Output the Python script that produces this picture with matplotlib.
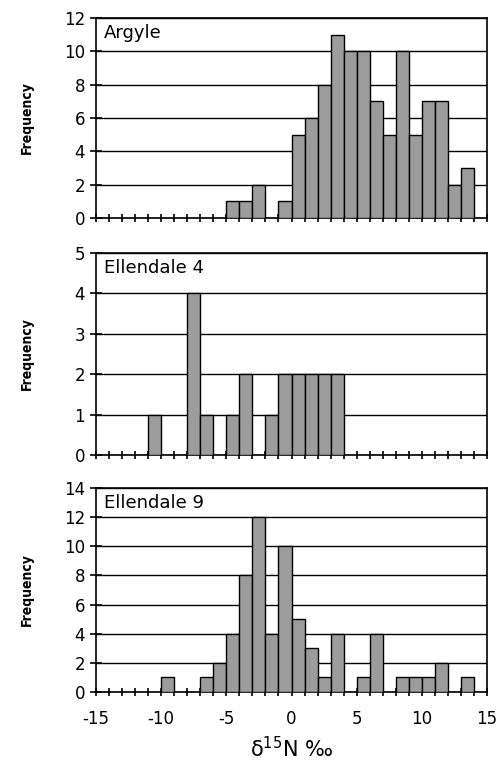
import numpy as np
import matplotlib
matplotlib.use("Agg")
import matplotlib.pyplot as plt
from matplotlib.ticker import MultipleLocator

# bin left edges (width 1 per mil) from -15 to 14
bin_left = np.arange(-15, 15)

# counts per bin
argyle = [0, 0, 0, 0, 0, 0, 0, 0, 0, 0, 1, 1, 2, 0, 1,
          5, 6, 8, 11, 10, 10, 7, 5, 10, 5, 7, 7, 2, 3, 0]
ellendale4 = [0, 0, 0, 0, 1, 0, 0, 4, 1, 0, 1, 2, 0, 1, 2,
              2, 2, 2, 2, 0, 0, 0, 0, 0, 0, 0, 0, 0, 0, 0]
ellendale9 = [0, 0, 0, 0, 0, 1, 0, 0, 1, 2, 4, 8, 12, 4, 10,
              5, 3, 1, 4, 0, 1, 4, 0, 1, 1, 1, 2, 0, 1, 0]

names = ["Argyle", "Ellendale 4", "Ellendale 9"]
series = [argyle, ellendale4, ellendale9]
y_max = [12, 5, 14]
y_step = [2, 1, 2]
x_ticks = [-15, -10, -5, 0, 5, 10, 15]

fig = plt.figure(figsize=(5.03, 7.81), dpi=100)
W, H = 503, 781
# panel boxes in pixels: (top, bottom)
boxes = [(18, 218), (253, 455), (488, 692)]
left_px, right_px = 96, 487

for i, (name, counts) in enumerate(zip(names, series)):
    top, bot = boxes[i]
    ax = fig.add_axes([left_px / W, 1 - bot / H, (right_px - left_px) / W, (bot - top) / H])
    counts = np.array(counts)
    keep = counts > 0
    ax.bar(bin_left[keep], counts[keep], width=1, align='edge',
           facecolor='#9c9c9c', edgecolor='black', linewidth=1.0, zorder=3)
    ax.set_xlim(-15, 15)
    ax.set_ylim(0, y_max[i])
    ax.yaxis.set_major_locator(MultipleLocator(y_step[i]))
    ax.xaxis.set_major_locator(MultipleLocator(5))
    ax.xaxis.set_minor_locator(MultipleLocator(1))
    ax.grid(axis='y', color='black', linewidth=1.0, zorder=1)
    ax.tick_params(axis='y', direction='inout', length=8, width=1.2, labelsize=12, pad=4)
    ax.tick_params(axis='x', which='both', direction='inout', length=6, width=1.2)
    for s in ax.spines.values():
        s.set_linewidth(1.2)
    ax.text(0.02, 0.97, name, transform=ax.transAxes, ha='left', va='top',
            fontsize=13, zorder=4)
    ax.set_ylabel("Frequency", fontsize=10, fontweight='bold', fontstretch='condensed')
    ax.yaxis.set_label_coords(-0.16, 0.5)
    if i < 2:
        ax.tick_params(axis='x', labelbottom=False)
    else:
        ax.set_xticks(x_ticks)
        ax.set_xticklabels([str(t) for t in x_ticks])
        ax.tick_params(axis='x', labelsize=12, pad=10)
        ax.set_xlabel(r'δ$^{\mathregular{15}}$N ‰', fontsize=15, labelpad=6)

fig.savefig("out.png", dpi=100, facecolor='white')
